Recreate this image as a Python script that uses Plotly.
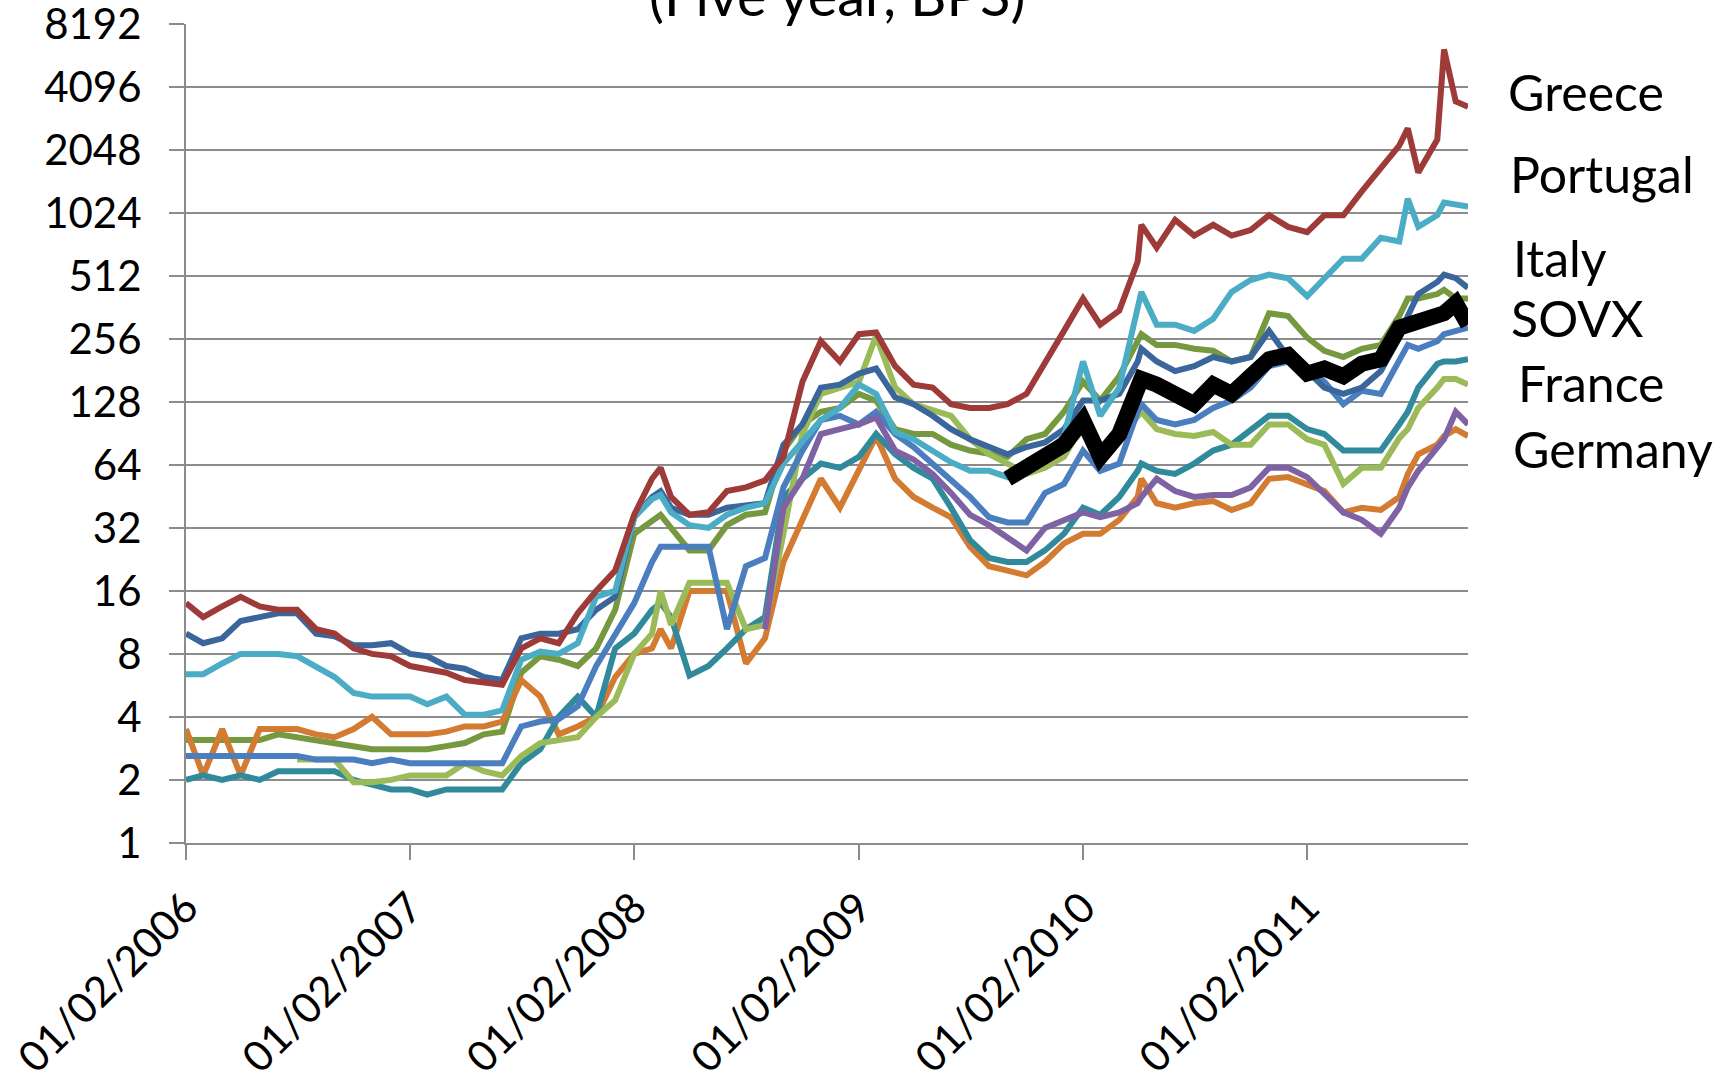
import math
import plotly.graph_objects as go

# ---------------- data ----------------
DATES = [
    # 2006
    "2006-02-01", "2006-03-01", "2006-04-01", "2006-05-01", "2006-06-01", "2006-07-01",
    "2006-08-01", "2006-09-01", "2006-10-01", "2006-11-01", "2006-12-01",
    # 2007
    "2007-01-01", "2007-02-01", "2007-03-01", "2007-04-01", "2007-05-01", "2007-06-01",
    "2007-07-01", "2007-08-01", "2007-09-01", "2007-10-01", "2007-11-01", "2007-12-01",
    # 2008
    "2008-01-01", "2008-02-01", "2008-03-01", "2008-03-15", "2008-04-01", "2008-05-01",
    "2008-06-01", "2008-07-01", "2008-08-01", "2008-09-01", "2008-10-01", "2008-11-01",
    "2008-12-01",
    # 2009
    "2009-01-01", "2009-02-01", "2009-03-01", "2009-04-01", "2009-05-01", "2009-06-01",
    "2009-07-01", "2009-08-01", "2009-09-01", "2009-10-01", "2009-11-01", "2009-12-01",
    # 2010
    "2010-01-01", "2010-02-01", "2010-03-01", "2010-04-01", "2010-05-01", "2010-05-07",
    "2010-06-01", "2010-07-01", "2010-08-01", "2010-09-01", "2010-10-01", "2010-11-01",
    "2010-12-01",
    # 2011
    "2011-01-01", "2011-02-01", "2011-03-01", "2011-04-01", "2011-05-01", "2011-06-01",
    "2011-07-01", "2011-07-15", "2011-08-01", "2011-09-01", "2011-09-12", "2011-10-01",
    "2011-10-21",
]

N = None

GREECE = [14, 12, 13.5, 15, 13.5, 13, 13, 10.5, 10, 8.5, 8,
          7.8, 7, 6.8, 6.5, 6.0, 5.8, 5.7, 8.5, 9.5, 9, 12.5, 16,
          20, 37, 55, 62, 45, 37, 38, 48, 50, 54, 70, 160, 250,
          200, 270, 275, 190, 155, 150, 125, 120, 120, 125, 140, 200,
          280, 400, 300, 350, 600, 900, 700, 950, 800, 900, 800, 850, 1000,
          880, 830, 1000, 1000, 1300, 1700, 2150, 2600, 1600, 2300, 6200, 3500, 3300]

PORTUGAL = [6.4, 6.4, 7.2, 8.0, 8.0, 8.0, 7.8, 7.0, 6.2, 5.2, 5.0,
            5.0, 5.0, 4.6, 5.0, 4.1, 4.1, 4.3, 7.5, 8.2, 8.0, 9.0, 15,
            16, 36, 44, 46, 38, 33, 32, 37, 40, 42, 65, 82, 105,
            120, 155, 140, 92, 85, 75, 66, 60, 60, 56, 65, 72,
            88, 200, 110, 150, 380, 430, 300, 300, 280, 320, 430, 490, 520,
            500, 410, 500, 620, 620, 780, 750, 1200, 880, 1000, 1150, 1120, 1100]

ITALY = [10, 9, 9.5, 11.5, 12, 12.5, 12.5, 10, 9.7, 8.8, 8.8,
         9, 8, 7.8, 7, 6.8, 6.2, 6.0, 9.5, 10, 10, 10.5, 13,
         15, 36, 45, 48, 40, 37, 37, 40, 41, 42, 80, 100, 150,
         155, 175, 185, 135, 125, 110, 95, 85, 78, 72, 78, 82,
         95, 130, 130, 140, 200, 230, 200, 180, 190, 210, 200, 210, 280,
         210, 180, 150, 140, 150, 180, 260, 330, 420, 480, 520, 500, 450]

SPAIN = [3.1, 3.1, 3.1, 3.1, 3.1, 3.3, 3.2, 3.1, 3.0, 2.9, 2.8,
         2.8, 2.8, 2.8, 2.9, 3.0, 3.3, 3.4, 6.5, 7.8, 7.5, 7.0, 8.5,
         13, 30, 35, 37, 32, 25, 25, 33, 37, 38, 75, 100, 115,
         120, 140, 130, 95, 90, 90, 80, 75, 72, 70, 85, 90,
         115, 160, 130, 170, 250, 270, 240, 240, 230, 225, 200, 210, 340,
         330, 260, 225, 210, 230, 240, 330, 400, 400, 420, 440, 400, 400]

BELGIUM = [2.6, 2.6, 2.6, 2.6, 2.6, 2.6, 2.6, 2.5, 2.5, 2.5, 2.4,
           2.5, 2.4, 2.4, 2.4, 2.4, 2.4, 2.4, 3.6, 3.8, 3.9, 4.5, 7,
           10, 14, 22, 26, 26, 26, 26, 10.5, 21, 23, 50, 75, 105,
           110, 100, 115, 90, 78, 65, 55, 45, 36, 34, 34, 47,
           52, 75, 60, 65, 115, 125, 105, 100, 105, 120, 130, 150, 190,
           200, 185, 160, 125, 145, 140, 200, 240, 230, 250, 270, 280, 290]

FRANCE = [2.0, 2.1, 2.0, 2.1, 2.0, 2.2, 2.2, 2.2, 2.2, 2.0, 1.9,
          1.8, 1.8, 1.7, 1.8, 1.8, 1.8, 1.8, 2.4, 2.8, 4.0, 5.0, 4.0,
          8.5, 10, 13, 14, 12, 6.3, 7.0, 8.5, 10.5, 12, 45, 55, 65,
          62, 70, 90, 72, 62, 55, 40, 28, 23, 22, 22, 25,
          30, 40, 37, 45, 60, 65, 60, 58, 65, 75, 80, 95, 110,
          110, 95, 90, 75, 75, 75, 100, 115, 150, 195, 200, 200, 205]

AUSTRIA = [N, N, N, N, N, N, 2.5, 2.5, 2.5, 1.95, 1.95,
           2.0, 2.1, 2.1, 2.1, 2.4, 2.2, 2.1, 2.6, 3.0, 3.1, 3.2, 4.0,
           4.8, 8, 10, 16, 11, 17.5, 17.5, 17.5, 10.5, 11, 30, 90, 140,
           150, 160, 265, 150, 125, 118, 110, 85, 72, 65, 58, 62,
           70, 100, 72, 85, 110, 115, 95, 90, 88, 92, 80, 80, 100,
           100, 85, 80, 52, 62, 62, 86, 95, 120, 150, 165, 165, 155]

NETHERLANDS = [N, N, N, N, N, N, N, N, N, N, N,
               N, N, N, N, N, N, N, N, N, N, N, N,
               N, N, N, N, N, N, N, N, N, 10.5, 40, 55, 90,
               95, 100, 108, 75, 68, 58, 47, 37, 33, 29, 25, 32,
               35, 38, 36, 38, 42, 45, 55, 48, 45, 46, 46, 50, 62,
               62, 56, 47, 38, 35, 30, 40, 50, 60, 78, 85, 115, 100]

GERMANY = [3.5, 2.1, 3.5, 2.1, 3.5, 3.5, 3.5, 3.3, 3.2, 3.5, 4.0,
           3.3, 3.3, 3.3, 3.4, 3.6, 3.6, 3.8, 6.0, 5.0, 3.3, 3.6, 4.0,
           6.2, 8, 8.5, 10.5, 8.5, 16, 16, 16, 7.2, 9.5, 22, 35, 55,
           40, 60, 88, 55, 45, 40, 36, 26, 21, 20, 19, 22,
           27, 30, 30, 35, 45, 55, 42, 40, 42, 43, 39, 42, 55,
           56, 52, 48, 38, 40, 39, 45, 58, 72, 80, 88, 95, 88]

SOVX = [N, N, N, N, N, N, N, N, N, N, N,
        N, N, N, N, N, N, N, N, N, N, N, N,
        N, N, N, N, N, N, N, N, N, N, N, N, N,
        N, N, N, N, N, N, N, N, N, 55, 62, 70,
        80, 105, 70, 90, 140, 165, 155, 140, 125, 155, 140, 170, 205,
        215, 175, 185, 170, 195, 205, 290, 300, 300, 335, 340, 380, 300]

Y_TICKS = [1, 2, 4, 8, 16, 32, 64, 128, 256, 512, 1024, 2048, 4096, 8192]
X_TICKS = ["2006-02-01", "2007-02-01", "2008-02-01", "2009-02-01", "2010-02-01", "2011-02-01"]
X_TICK_LABELS = ["01/02/2006", "01/02/2007", "01/02/2008", "01/02/2009", "01/02/2010", "01/02/2011"]
X_RANGE = ["2006-02-01", "2011-10-21"]

TITLE = "(Five year, BPS)"
END_LABELS = ["Greece", "Portugal", "Italy", "SOVX", "France", "Germany"]

# ---------------- styling ----------------
LW = 6
SERIES = [
    ("Spain", SPAIN, "#76983F", LW),
    ("Germany", GERMANY, "#D27B31", LW),
    ("France", FRANCE, "#31899C", LW),
    ("Austria", AUSTRIA, "#9BBB59", LW),
    ("Belgium", BELGIUM, "#4A7EBF", LW),
    ("Italy", ITALY, "#3A669C", LW),
    ("Netherlands", NETHERLANDS, "#7F62A3", LW),
    ("Portugal", PORTUGAL, "#4BACC6", LW),
    ("Greece", GREECE, "#9E3B38", LW),
    ("SOVX", SOVX, "#000000", 16),
]

W, H = 1733, 1085
L, R, T, B = 186, 265, 24, 242
PW = W - L - R
PH = H - T - B
GRID = "#8C8C8C"
FONT = "Lato"

fig = go.Figure()
for name, vals, color, width in SERIES:
    fig.add_trace(go.Scatter(x=DATES, y=vals, name=name, mode="lines",
                             line=dict(color=color, width=width),
                             connectgaps=False, hoverinfo="skip"))

# end labels (full-image pixel anchors converted to paper coords)
label_pos = [(1506, 92), (1508, 174), (1511, 258), (1509, 318), (1516, 383), (1511, 449)]
annotations = []
for text, (px, py) in zip(END_LABELS, label_pos):
    annotations.append(dict(text=text, xref="paper", yref="paper",
                            x=(px - L) / PW, y=(H - B - py) / PH,
                            xanchor="left", yanchor="middle", showarrow=False,
                            font=dict(family=FONT, size=50, color="black")))
annotations.append(dict(text=TITLE, xref="paper", yref="paper",
                        x=(837 - L) / PW, y=1, xanchor="center", yanchor="bottom",
                        yshift=-6, showarrow=False,
                        font=dict(family=FONT, size=56, color="black")))

eps = 0.0008
fig.update_layout(
    width=W, height=H, autosize=False,
    margin=dict(l=L, r=R, t=T, b=B, pad=0, autoexpand=False),
    paper_bgcolor="white", plot_bgcolor="white",
    showlegend=False,
    annotations=annotations,
    font=dict(family=FONT, color="black"),
)
fig.update_yaxes(type="log", range=[-eps, math.log10(8192) + eps],
                 tickmode="array", tickvals=Y_TICKS, ticktext=[str(v) for v in Y_TICKS],
                 showgrid=True, gridcolor=GRID, gridwidth=2,
                 showline=True, linecolor=GRID, linewidth=2,
                 ticks="outside", ticklen=15, tickcolor=GRID, tickwidth=2,
                 ticklabelstandoff=19, ticklabeloverflow="allow", automargin=False,
                 tickfont=dict(family=FONT, size=42, color="black"),
                 zeroline=False)
fig.update_xaxes(type="date", range=X_RANGE,
                 tickmode="array", tickvals=X_TICKS, ticktext=X_TICK_LABELS,
                 tickangle=-45, showgrid=False,
                 showline=True, linecolor=GRID, linewidth=2,
                 ticks="outside", ticklen=15, tickcolor=GRID, tickwidth=2,
                 ticklabelstandoff=6, ticklabeloverflow="allow", automargin=False,
                 tickfont=dict(family=FONT, size=42, color="black"),
                 zeroline=False)

fig.write_html("out.html", config={"displayModeBar": False},
               post_script="document.body.style.margin='0';")
